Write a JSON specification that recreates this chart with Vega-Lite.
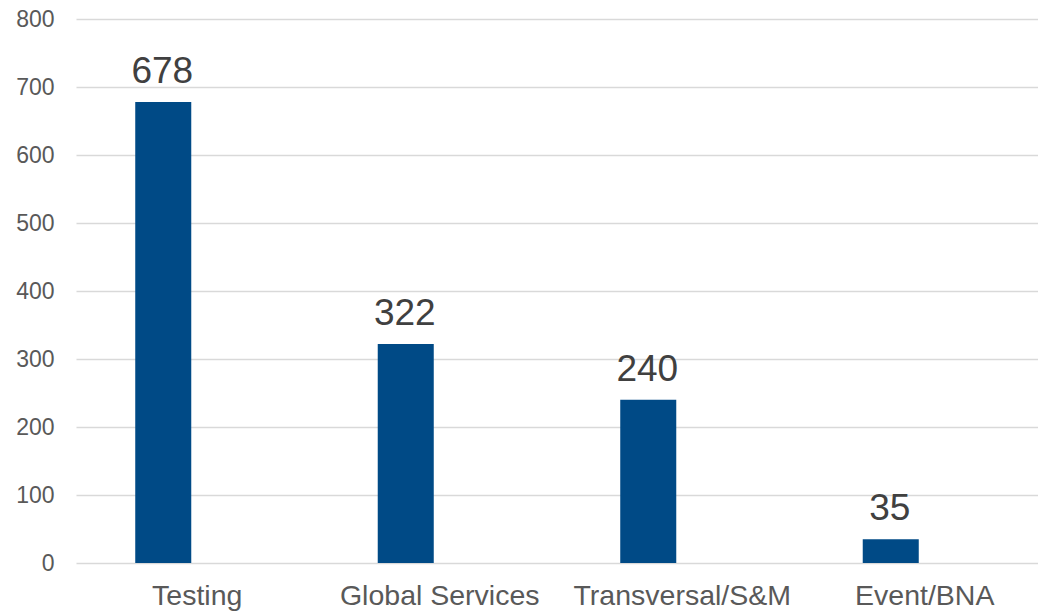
{
  "$schema": "https://vega.github.io/schema/vega-lite/v6.json",
  "width": 970,
  "height": 544,
  "autosize": {"type": "none"},
  "padding": {"left": 76, "top": 19, "right": 0, "bottom": 50},
  "background": "white",
  "config": {"view": {"stroke": null}, "font": "Liberation Sans"},
  "data": {"values": [
    {"category": "Testing", "value": 678},
    {"category": "Global Services", "value": 322},
    {"category": "Transversal/S&M", "value": 240},
    {"category": "Event/BNA", "value": 35}
  ]},
  "encoding": {
    "x": {
      "field": "category", "type": "nominal", "sort": null,
      "scale": {"paddingInner": 0, "paddingOuter": 0},
      "axis": {"title": null, "labelAngle": 0, "labelLimit": 0, "domain": false, "ticks": false, "labelFont": "Liberation Sans", "labelFontSize": 28.5, "labelColor": "#595959", "labelPadding": 18}
    },
    "y": {
      "field": "value", "type": "quantitative",
      "scale": {"domain": [0, 800], "nice": false},
      "axis": {"title": null, "values": [0,100,200,300,400,500,600,700,800], "domain": false, "ticks": false, "gridColor": "#D9D9D9", "gridWidth": 1.5, "labelFont": "Liberation Sans", "labelFontSize": 23, "labelColor": "#595959", "labelPadding": 22}
    }
  },
  "layer": [
    {"mark": {"type": "bar", "color": "#004A86", "width": {"band": 0.231}, "xOffset": -34}},
    {"mark": {"type": "text", "baseline": "alphabetic", "dy": -19, "xOffset": -35, "font": "Liberation Sans", "fontSize": 37, "color": "#404040"},
     "encoding": {"text": {"field": "value", "type": "quantitative"}}}
  ]
}
